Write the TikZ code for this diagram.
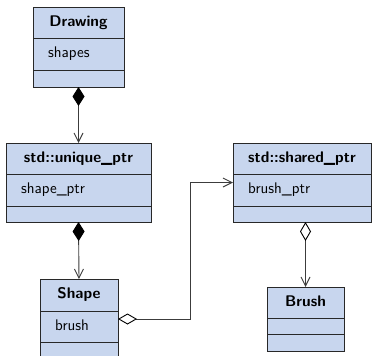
\documentclass[tikz,border=0pt]{standalone}
\usepackage{fontspec}
\usetikzlibrary{arrows.meta,calc}
\definecolor{boxfill}{RGB}{200,214,238}
\definecolor{boxline}{RGB}{40,40,40}
\definecolor{connline}{RGB}{60,60,60}
\tikzset{
  umlbox/.style={draw=boxline, fill=boxfill, line width=0.9pt, inner sep=0pt, outer sep=0pt, anchor=north west},
  sepline/.style={draw=boxline, line width=0.9pt},
  titletext/.style={font=\sffamily\bfseries\fontsize{15.4}{18}\selectfont, inner sep=0pt, text height=11pt, text depth=3.5pt},
  attrtext/.style={font=\sffamily\fontsize{15.4}{18}\selectfont, inner sep=0pt, anchor=west, text height=11pt, text depth=3.5pt},
  conn/.style={draw=connline, line width=0.9pt},
  composition/.style={conn, {Diamond[length=19pt,width=12pt,color=black,fill=black]}-{Straight Barb[length=9pt,width=9pt]}},
  aggregation/.style={conn, {Diamond[open,length=19pt,width=11pt,color=black,fill=white]}-{Straight Barb[length=9pt,width=9pt]}},
}
% #1 name, #2 left, #3 right, #4 top, #5 first rule, #6 second rule, #7 bottom, #8 class name, #9 attribute
\newcommand\umlclass[9]{%
  \node[umlbox, minimum width={(#3-#2)*1pt}, minimum height={(#7-#4)*1pt}] (#1) at (#2,#4) {};
  \draw[sepline] (#2,#5) -- (#3,#5);
  \draw[sepline] (#2,#6) -- (#3,#6);
  \node[titletext] (#1-name) at ({(#2+#3)/2},{(#4+#5)/2}) {#8};
  \node[attrtext] (#1-attr) at ({#2+15},{(#5+#6)/2}) {#9};
}
\begin{document}
\begin{tikzpicture}[x=1pt,y=-1pt]
  \useasboundingbox (0,0) rectangle (373,356);
  \clip (0,0) rectangle (373,356);

  \umlclass{drawing}{33}{124}{7}{38}{70}{87}{Drawing}{shapes}
  \umlclass{unique}{6}{151}{143}{174}{206}{222}{std::unique\_ptr}{shape\_ptr}
  \umlclass{shared}{233}{371}{143}{174}{206}{222}{std::shared\_ptr}{brush\_ptr}
  \umlclass{shape}{40}{118}{279}{311}{342}{359}{Shape}{brush}
  \umlclass{brush}{267}{344}{287}{318}{334}{351}{Brush}{}

  \coordinate (elbow) at (190,0);

  \draw[composition] (drawing.south) -- (unique.north);
  \draw[composition] (unique.south) -- (shape.north);
  \draw[aggregation] (shape.east) -- (shape.east -| elbow) |- (shared.west);
  \draw[aggregation] (shared.south -| brush.north) -- (brush.north);
\end{tikzpicture}
\end{document}
